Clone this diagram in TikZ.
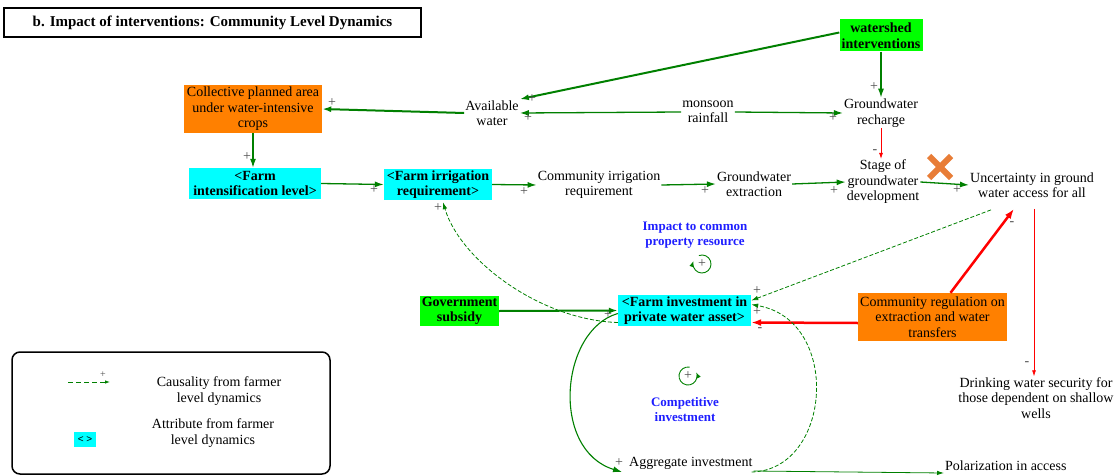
\documentclass[tikz,border=0pt]{standalone}
\usepackage{fontspec}
\setmainfont{Liberation Serif}
\newfontfamily\legsans{Liberation Sans}
\usetikzlibrary{arrows.meta,calc}
\definecolor{arrowgreen}{RGB}{0,128,0}
\definecolor{boxgreen}{RGB}{0,255,0}
\definecolor{boxcyan}{RGB}{0,255,255}
\definecolor{boxorange}{RGB}{255,128,0}
\definecolor{loopblue}{RGB}{30,30,255}
\definecolor{crossorange}{RGB}{232,125,55}
\begin{document}
\begin{tikzpicture}[x=1pt,y=-1pt,
  txt/.style={align=center,font=\fontsize{14}{15.5}\selectfont,inner sep=1pt},
  boldtxt/.style={align=center,font=\bfseries\fontsize{14}{15.5}\selectfont,inner sep=0pt},
  looplabel/.style={align=center,font=\bfseries\fontsize{13}{15}\selectfont,text=loopblue,inner sep=1pt},
  cyanbox/.style={boldtxt,fill=boxcyan},
  greenbox/.style={boldtxt,fill=boxgreen},
  orangebox/.style={txt,fill=boxorange},
  pol/.style={font=\fontsize{14}{14}\selectfont,text=black!70,inner sep=0pt},
  garrow/.style={draw=arrowgreen,line width=1.3pt,-{Latex[length=9pt,width=6pt]}},
  gthick/.style={garrow,line width=2pt},
  gthin/.style={draw=arrowgreen,line width=0.8pt,-{Latex[length=7pt,width=4.5pt]}},
  gdash/.style={draw=arrowgreen,line width=0.8pt,dash pattern=on 4pt off 2pt,-{Latex[length=7pt,width=4.5pt]}},
  rthick/.style={draw=red,line width=2.5pt,-{Latex[length=10pt,width=7pt]}},
  rthin/.style={draw=red,line width=0.7pt,-{Latex[length=6pt,width=4pt]}},
  loopsym/.style={draw=arrowgreen,line width=0.9pt,-{Latex[length=6pt,width=4.5pt]}}
]
\useasboundingbox (0,0) rectangle (1118,476);

% title
\node[draw,line width=1.3pt,minimum width=417,minimum height=29,inner sep=0pt,
      font=\bfseries\fontsize{15}{17}\selectfont] (title) at (212.5,22.5)
      {b. Impact of interventions: Community Level Dynamics};

% variables
\node[greenbox,minimum width=83,minimum height=32] (ws) at (881,35.5) {watershed\\interventions};
\node[orangebox,minimum width=138,minimum height=48] (coll) at (253,109) {Collective planned area\\under water-intensive\\crops};
\node[txt] (avail) at (492,113) {Available\\water};
\node[txt] (monsoon) at (708,112) {monsoon\\rainfall};
\node[txt] (recharge) at (881,113) {Groundwater\\recharge};
\node[cyanbox,minimum width=132,minimum height=31] (intens) at (255,183.5) {<Farm\\intensification level>};
\node[cyanbox,minimum width=108,minimum height=31] (irrig) at (438,184.5) {<Farm irrigation\\requirement>};
\node[txt] (commirr) at (599,185) {Community irrigation\\requirement};
\node[txt] (extr) at (754,184) {Groundwater\\extraction};
\node[txt] (stage) at (883,182) {Stage of\\groundwater\\development};
\node[txt] (uncert) at (1032,185) {Uncertainty in ground\\water access for all};
\node[looplabel] (impact) at (695,235) {Impact to common\\property resource};
\node[greenbox,minimum width=79,minimum height=30] (gov) at (459.5,311) {Government\\subsidy};
\node[cyanbox,minimum width=133,minimum height=31] (farminv) at (684.5,310.5) {<Farm investment in\\private water asset>};
\node[orangebox,minimum width=149,minimum height=48] (commreg) at (932.5,317) {Community regulation on\\extraction and water\\transfers};
\node[txt] (drink) at (1036,398) {Drinking water security for\\those dependent on shallow\\wells};
\node[looplabel] (compet) at (685,410) {Competitive\\investment};
\node[txt,anchor=west] (agg) at (628,463) {Aggregate investment};
\node[txt,anchor=west] (polar) at (944,466) {Polarization in access};

% cross over the link to uncertainty
\draw[crossorange,line width=6pt] (929,156) -- (951,178) (951,156) -- (929,178);

% links
\draw[gthick] ([yshift=3pt]ws.west) -- (avail.north east);
\draw[garrow] (ws.south) -- (recharge.north);
\draw[garrow] (monsoon.west) -- (avail.east);
\draw[garrow] (monsoon.east) -- (recharge.west);
\draw[gthick] (avail.west) -- (coll.east);
\draw[garrow] (coll.south) -- (coll.south |- intens.north);
\draw[garrow] (intens.east) -- (irrig.west);
\draw[garrow] (irrig.east) -- (commirr.west);
\draw[garrow] (commirr.east) -- (extr.west);
\draw[garrow] (extr.east) -- (stage.west);
\draw[rthin] (recharge.south) -- (recharge.south |- stage.north);
\draw[garrow] (stage.east) -- (uncert.west);
\draw[gdash] ($(uncert.south)+(-41,11)$) -- ([yshift=10pt]farminv.east);
\draw[rthick] ($(commreg.north)+(18,0)$) -- ($(uncert.south)+(-18,10)$);
\coordinate (u2) at ($(uncert.south)+(2,10)$);
\draw[rthin] (u2) -- (u2 |- drink.north);
\draw[rthick] ([yshift=-6pt]commreg.west) -- ([yshift=-12pt]farminv.east);
\draw[gthick] (gov.east) -- (farminv.west);
\draw[gdash] ([yshift=-12pt]farminv.west) .. controls (540,320) and (460,260) .. ($(irrig.south)+(5,2)$);
\draw[garrow,line width=1.1pt] ([yshift=-3pt]farminv.west) .. controls (560,330) and (550,450) .. ($(agg.west)+(-6,9)$);
\draw[gdash] ($(agg.east)+(-2,9)$) .. controls (832,470) and (842,320) .. ([yshift=6pt]farminv.east);
\draw[gthin] ([yshift=-8pt]agg.east) -- ([yshift=-7pt]polar.west);

% polarities
\node[pol] (p1) at (532,99) {+};
\node[pol] (p2) at (528,118) {+};
\node[pol] (p3) at (833,118) {+};
\node[pol] (p4) at (874,87) {+};
\node[pol] (p5) at (332,103) {+};
\node[pol] (p6) at (247,157) {+};
\node[pol] (p7) at (374,190) {+};
\node[pol] (p8) at (524,192) {+};
\node[pol] (p9) at (705,191) {+};
\node[pol] (p10) at (834,191) {+};
\node[pol] (p11) at (957,190) {+};
\node[pol] (p12) at (875,152) {-};
\node[pol] (p13) at (438,208) {+};
\node[pol] (p14) at (608,315) {+};
\node[pol] (p15) at (757,291) {+};
\node[pol] (p16) at (757,312) {+};
\node[pol] (p17) at (760,330) {-};
\node[pol] (p18) at (1012,224) {-};
\node[pol] (p19) at (1027,364) {-};
\node[pol] (p20) at (619,463) {+};

% loop markers
\begin{scope}[shift={(702,264)},x=1pt,y=1pt]
  \draw[loopsym] (110:9) arc[start angle=110,end angle=-200,radius=9];
  \node[pol] (impplus) at (0,0) {+};
\end{scope}
\begin{scope}[shift={(688,376)},x=1pt,y=1pt]
  \draw[loopsym] (80:9) arc[start angle=80,end angle=385,radius=9];
  \node[pol] (complus) at (0,0) {+};
\end{scope}

% legend
\node[draw,rounded corners=8pt,line width=1.5pt,minimum width=318,minimum height=122] (legend) at (171,413) {};
\coordinate (ls1) at (68,382);
\coordinate (ls2) at (110,382);
\draw[gdash,dash pattern=on 5pt off 3pt,-{Latex[length=5pt,width=3.5pt]}] (ls1) -- (ls2);
\node[pol,font=\fontsize{10}{10}\selectfont] (lsplus) at (103,375) {+};
\node[txt] (legcaus) at (219,391) {Causality from farmer\\level dynamics};
\node[fill=boxcyan,minimum width=22,minimum height=15,inner sep=0pt,font=\legsans\fontsize{10}{10}\selectfont] (legbox) at (85,439.5) {< >};
\node[txt] (legattr) at (213,433) {Attribute from farmer\\level dynamics};
\end{tikzpicture}
\end{document}
